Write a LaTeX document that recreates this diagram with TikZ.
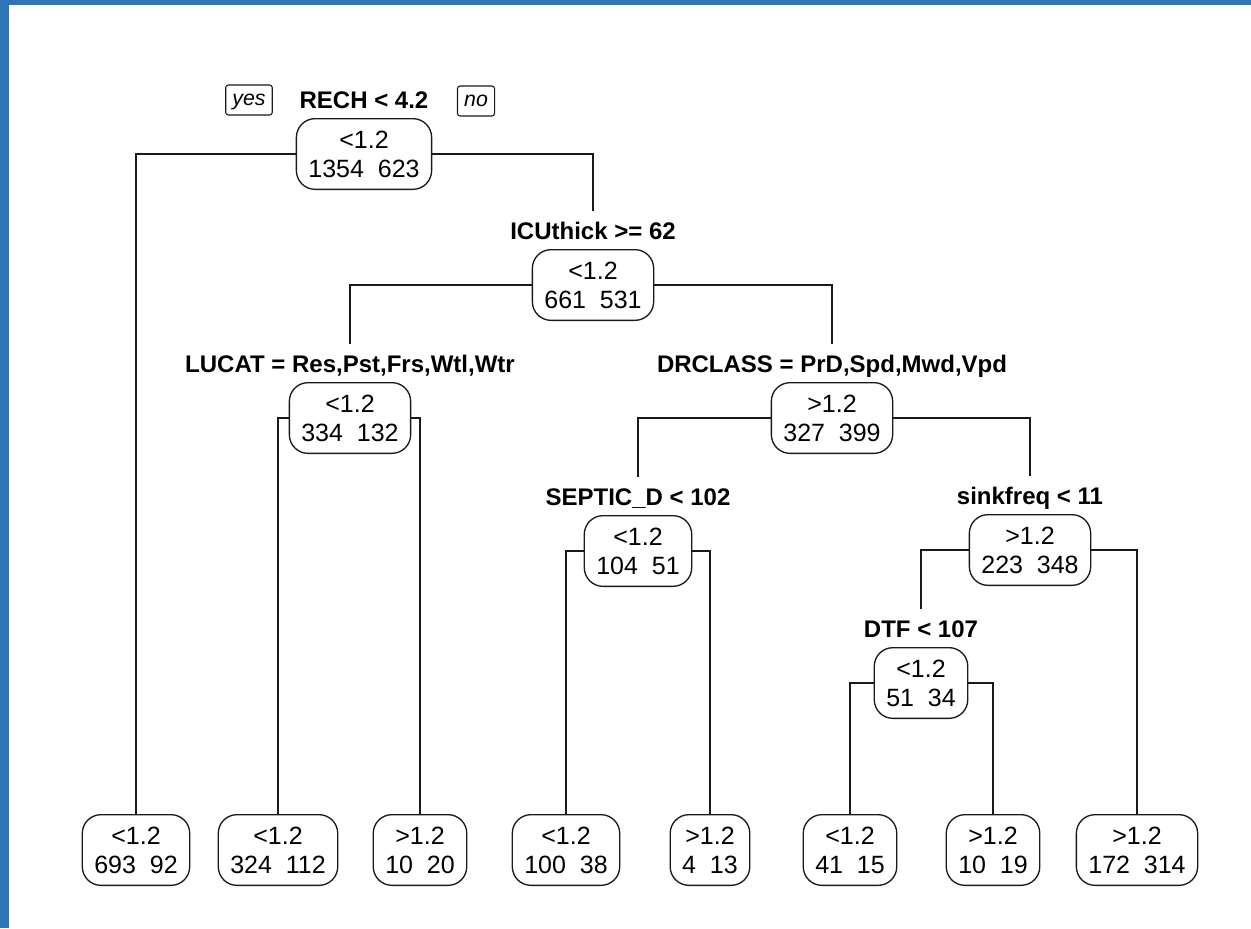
\documentclass[tikz,border=0pt]{standalone}
\usepackage{fontspec}
\setmainfont{Liberation Sans}
\usetikzlibrary{positioning}
\definecolor{frameblue}{HTML}{2E75B6}
\definecolor{ink}{HTML}{1A1A1A}

\begin{document}
\begin{tikzpicture}[
  x=0.75pt, y=-0.75pt,
  treenode/.style={draw=ink, line width=1pt, rounded corners=14pt, fill=white, align=center,
    inner xsep=9pt, minimum height=53pt, font=\fontsize{18.75}{21.75}\selectfont},
  splitlab/.style={font=\fontsize{18}{20}\selectfont\bfseries, inner sep=0pt,
    text height=13.5pt, text depth=0pt, above=6.75pt of #1},
  tag/.style={draw=ink, line width=0.8pt, rounded corners=2pt, inner xsep=5pt,
    text height=11pt, text depth=3.5pt, minimum height=22.5pt, font=\fontsize{16}{17}\selectfont\itshape},
  link/.style={ink, line width=1pt},
  tolab/.style={link, shorten >=8pt}
]
  % frame
  \useasboundingbox (0,0) rectangle (1251,928);
  \fill[frameblue] (0,0) rectangle (1251,928);
  \fill[white] (9,5) rectangle (1251,928);

  % split nodes
  \node[treenode] (rech) at (364,154) {<1.2\\1354~~623};
  \node[treenode] (icu) at (593,285) {<1.2\\661~~531};
  \node[treenode] (lucat) at (350,418) {<1.2\\334~~132};
  \node[treenode] (drclass) at (832,418) {>1.2\\327~~399};
  \node[treenode] (septic) at (638,551) {<1.2\\104~~51};
  \node[treenode] (sink) at (1030,550) {>1.2\\223~~348};
  \node[treenode] (dtf) at (921,683) {<1.2\\51~~34};

  % split labels
  \node[splitlab=rech] (rechq) {RECH < 4.2};
  \node[splitlab=icu] (icuq) {ICUthick >= 62};
  \node[splitlab=lucat] (lucatq) {LUCAT = Res,Pst,Frs,Wtl,Wtr};
  \node[splitlab=drclass] (drclassq) {DRCLASS = PrD,Spd,Mwd,Vpd};
  \node[splitlab=septic] (septicq) {SEPTIC\_D < 102};
  \node[splitlab=sink] (sinkq) {sinkfreq < 11};
  \node[splitlab=dtf] (dtfq) {DTF < 107};

  \node[tag] (yes) at (249,100) {yes};
  \node[tag] (no) at (476,101) {no};

  % leaves
  \node[treenode] (leaf1) at (136,850) {<1.2\\693~~92};
  \node[treenode] (leaf2) at (278,850) {<1.2\\324~~112};
  \node[treenode] (leaf3) at (420,850) {>1.2\\10~~20};
  \node[treenode] (leaf4) at (566,850) {<1.2\\100~~38};
  \node[treenode] (leaf5) at (710,850) {>1.2\\4~~13};
  \node[treenode] (leaf6) at (850,850) {<1.2\\41~~15};
  \node[treenode] (leaf7) at (993,850) {>1.2\\10~~19};
  \node[treenode] (leaf8) at (1137,850) {>1.2\\172~~314};

  % branches
  \draw[link] (rech.west) -| (leaf1.north);
  \draw[tolab] (rech.east) -| (icuq.north);
  \draw[tolab] (icu.west) -| (lucatq.north);
  \draw[tolab] (icu.east) -| (drclassq.north);
  \draw[link] (lucat.west) -| (leaf2.north);
  \draw[link] (lucat.east) -| (leaf3.north);
  \draw[tolab] (drclass.west) -| (septicq.north);
  \draw[tolab] (drclass.east) -| (sinkq.north);
  \draw[link] (septic.west) -| (leaf4.north);
  \draw[link] (septic.east) -| (leaf5.north);
  \draw[tolab] (sink.west) -| (dtfq.north);
  \draw[link] (sink.east) -| (leaf8.north);
  \draw[link] (dtf.west) -| (leaf6.north);
  \draw[link] (dtf.east) -| (leaf7.north);
\end{tikzpicture}
\end{document}
